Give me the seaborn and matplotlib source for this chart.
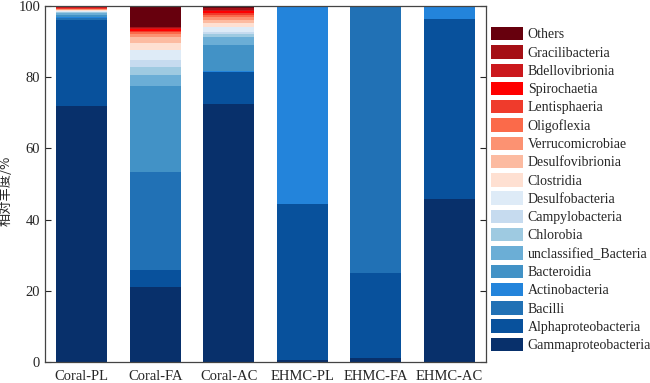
import pandas as pd
import numpy as np
import matplotlib
matplotlib.use("Agg")
import matplotlib.pyplot as plt
import seaborn as sns

# samples on the x axis
samples = ["Coral-PL", "Coral-FA", "Coral-AC", "EHMC-PL", "EHMC-FA", "EHMC-AC"]

# taxa, listed top of the stack first (same order as the legend)
taxa = ["Others", "Gracilibacteria", "Bdellovibrionia", "Spirochaetia", "Lentisphaeria",
        "Oligoflexia", "Verrucomicrobiae", "Desulfovibrionia", "Clostridia", "Desulfobacteria",
        "Campylobacteria", "Chlorobia", "unclassified_Bacteria", "Bacteroidia", "Actinobacteria",
        "Bacilli", "Alphaproteobacteria", "Gammaproteobacteria"]

colors = ["#67000d", "#a50f15", "#cb181d", "#fe0000", "#ef3b2c",
          "#fb6a4a", "#fc9272", "#fcbba1", "#fee0d2", "#deebf7",
          "#c6dbef", "#9ecae1", "#6baed6", "#4292c6", "#2384db",
          "#2171b5", "#08519c", "#08306b"]

# relative abundance (%) per sample, same order as taxa
coral_pl = [0.3, 0.1, 0.1, 0.1, 0.2, 0.1, 0.1, 0.1, 0.2, 0.3, 0.2, 0.3, 0.4, 0.6, 0.3, 0.6, 24.0, 72.0]
coral_fa = [6.0, 0.2, 0.3, 0.5, 0.4, 0.6, 0.6, 1.9, 1.9, 2.8, 1.8, 2.4, 3.1, 24.0, 0.1, 27.6, 4.8, 21.0]
coral_ac = [0.6, 0.5, 0.4, 0.5, 0.5, 0.6, 0.8, 1.0, 0.9, 1.4, 0.6, 0.8, 2.4, 7.3, 0.1, 0.1, 9.0, 72.5]
ehmc_pl = [0, 0, 0, 0, 0, 0, 0, 0, 0, 0, 0, 0, 0, 0, 55.6, 0, 43.8, 0.6]
ehmc_fa = [0, 0, 0, 0, 0, 0, 0, 0, 0, 0, 0, 0, 0, 0, 0, 75.0, 24.0, 1.0]
ehmc_ac = [0, 0, 0, 0, 0, 0, 0, 0, 0, 0, 0, 0, 0, 0, 3.7, 0, 50.5, 45.8]

values = [coral_pl, coral_fa, coral_ac, ehmc_pl, ehmc_fa, ehmc_ac]

rows = []
for s, vals in zip(samples, values):
    for t, v in zip(taxa, vals):
        rows.append({"sample": s, "taxon": t, "value": v})
df = pd.DataFrame(rows)

sns.set_style("ticks")
plt.rcParams["font.family"] = ["Liberation Serif", "Noto Sans CJK SC"]

fig, ax = plt.subplots(figsize=(6.5, 3.83), dpi=100)
fig.subplots_adjust(left=45/650, right=486/650, top=1-6/383, bottom=1-362/383)

# histplot stacks the first hue level on top
sns.histplot(data=df, x="sample", weights="value", hue="taxon", hue_order=taxa,
             palette=colors, multiple="stack", discrete=True, shrink=0.7,
             alpha=1, linewidth=0, ax=ax)

ax.set_xlim(-0.5, 5.5)
ax.set_ylim(0, 100)
ax.set_yticks([0, 20, 40, 60, 80, 100])
ax.set_xlabel("")
ax.set_ylabel("相对丰度/%", fontsize=9.5, family=["Noto Sans CJK SC"])
ax.yaxis.set_label_coords(-0.073, 0.48)
ax.tick_params(axis="y", direction="in", length=4, labelsize=10.5, right=True, width=0.8)
ax.tick_params(axis="x", length=0, labelsize=10.5, pad=6)
for sp in ax.spines.values():
    sp.set_visible(True)
    sp.set_color("#444444")
    sp.set_linewidth(0.9)

sns.move_legend(ax, "upper left", bbox_to_anchor=(491/650, 1-27/383),
                bbox_transform=fig.transFigure, title=None, frameon=False,
                fontsize=10, handlelength=2.3, handleheight=1.1,
                labelspacing=0.28, handletextpad=0.35, borderpad=0, borderaxespad=0)

fig.savefig("out.png", dpi=100)
